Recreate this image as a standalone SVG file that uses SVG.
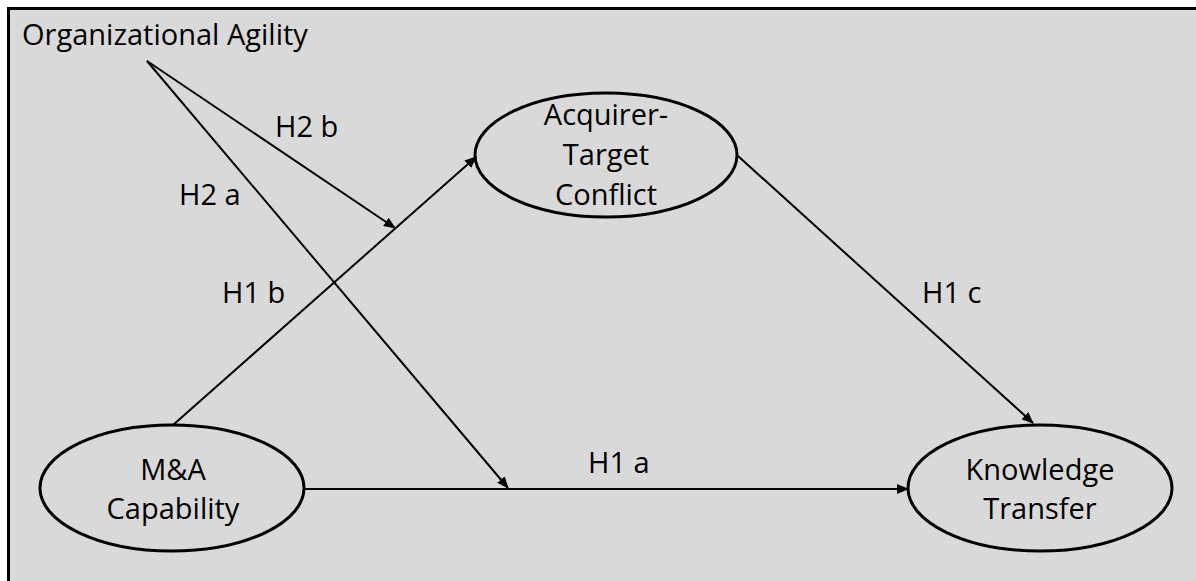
<svg xmlns="http://www.w3.org/2000/svg" width="1196" height="581" viewBox="0 0 1196 581">
<defs>
<style>
.t{font-family:"Open Sans","Liberation Sans",sans-serif;font-size:29px;fill:#000}
.c{text-anchor:middle}
.node{fill:none;stroke:#000;stroke-width:3}
.edge{fill:none;stroke:#000;stroke-width:2}
</style>
<marker id="ah" markerWidth="12" markerHeight="10" refX="11" refY="5" orient="auto" markerUnits="userSpaceOnUse">
<path d="M0,0 L12,5 L0,10 Z" fill="#000"/>
</marker>
</defs>
<rect x="0" y="0" width="1196" height="581" fill="#fff"/>
<rect x="8.5" y="8.5" width="1200" height="590" fill="#d9d9d9" stroke="#000" stroke-width="3"/>
<g id="connectors">
<line class="edge" x1="147" y1="61" x2="395" y2="228" marker-end="url(#ah)"/>
<line class="edge" x1="147" y1="61" x2="508" y2="488" marker-end="url(#ah)"/>
<line class="edge" x1="173" y1="425" x2="476" y2="157" marker-end="url(#ah)"/>
<line class="edge" x1="738" y1="156" x2="1033" y2="423" marker-end="url(#ah)"/>
<line class="edge" x1="305" y1="489" x2="908" y2="489" marker-end="url(#ah)"/>
<text class="t" x="275" y="137">H2 b</text>
<text class="t" x="179" y="205">H2 a</text>
<text class="t" x="222" y="303">H1 b</text>
<text class="t" x="922" y="303">H1 c</text>
<text class="t" x="588" y="473">H1 a</text>
</g>
<g id="agility">
<text class="t" x="22" y="45">Organizational Agility</text>
</g>
<g id="conflict">
<ellipse class="node" cx="606" cy="155" rx="131" ry="62"/>
<text class="t c" x="606" y="125">Acquirer-</text>
<text class="t c" x="606" y="165">Target</text>
<text class="t c" x="606" y="205">Conflict</text>
</g>
<g id="capability">
<ellipse class="node" cx="172" cy="488" rx="132" ry="63"/>
<text class="t c" x="173" y="480">M&amp;A</text>
<text class="t c" x="173" y="519">Capability</text>
</g>
<g id="transfer">
<ellipse class="node" cx="1040" cy="488" rx="132" ry="63"/>
<text class="t c" x="1040" y="480">Knowledge</text>
<text class="t c" x="1040" y="519">Transfer</text>
</g>
</svg>
